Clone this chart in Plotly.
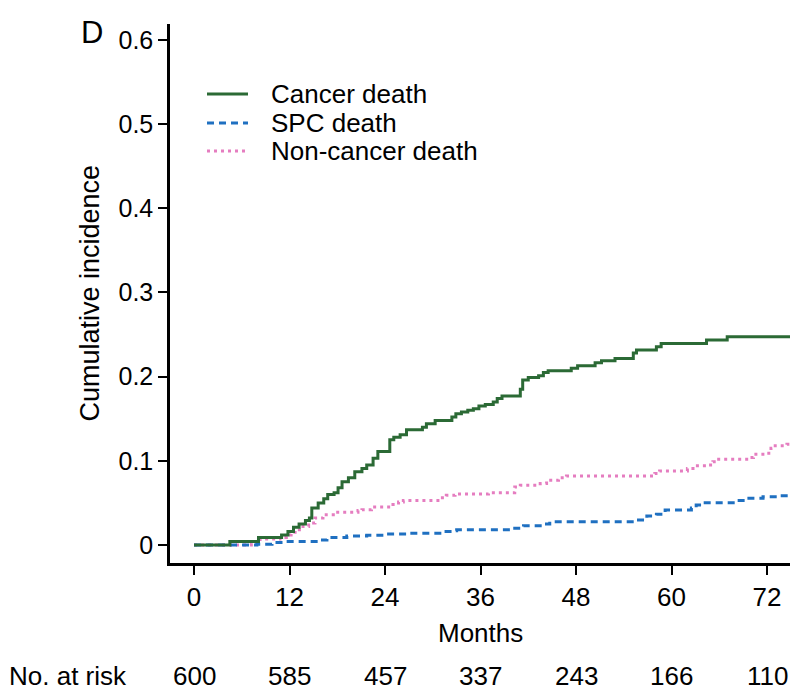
import plotly.graph_objects as go

# ---- data ----
series_names = ["Cancer death", "SPC death", "Non-cancer death"]

cancer_t = [0, 4.5, 8.1, 11.0, 11.8, 12.5, 13.2, 14.0, 14.5, 14.8, 15.6, 16.3, 16.8, 17.6, 18.1,
            18.6, 19.4, 20.2, 21.1, 21.7, 22.5, 23.1, 24.6, 25.1, 25.9, 26.7, 28.7, 29.2, 30.3,
            32.4, 32.9, 33.6, 34.4, 35.1, 35.8, 36.6, 37.6, 38.1, 38.7, 41.0, 41.3, 42.0, 43.3,
            43.9, 44.5, 47.4, 48.2, 50.4, 51.2, 52.9, 55.2, 55.6, 58.1, 58.7, 64.4, 67.0, 76.0]
cancer_v = [0, 0.004, 0.009, 0.012, 0.016, 0.021, 0.025, 0.029, 0.032, 0.044, 0.050, 0.055, 0.060,
            0.062, 0.068, 0.075, 0.080, 0.087, 0.091, 0.095, 0.103, 0.111, 0.125, 0.128, 0.131,
            0.137, 0.140, 0.144, 0.148, 0.152, 0.156, 0.158, 0.160, 0.162, 0.165, 0.167, 0.170,
            0.174, 0.177, 0.185, 0.196, 0.199, 0.201, 0.205, 0.207, 0.210, 0.213, 0.2166, 0.219,
            0.2215, 0.228, 0.2316, 0.2355, 0.2395, 0.2435, 0.2474, 0.2474]

spc_t = [0, 7.9, 9.8, 11.2, 15.8, 16.7, 19.2, 21.7, 24.2, 26.7, 31.3, 32.5, 33.0, 40.3, 41.4,
         43.5, 44.7, 55.6, 56.9, 58.1, 59.2, 62.5, 63.1, 64.0, 68.5, 69.0, 71.5, 73.5, 76.0]
spc_v = [0, 0.001, 0.003, 0.004, 0.006, 0.009, 0.0107, 0.0115, 0.013, 0.0139, 0.016, 0.017, 0.018,
         0.020, 0.023, 0.025, 0.0277, 0.0297, 0.0344, 0.0364, 0.0416, 0.044, 0.0475, 0.0503,
         0.053, 0.0554, 0.0574, 0.0586, 0.0586]

noncancer_t = [0, 7.2, 8.3, 10.8, 11.6, 12.2, 12.7, 13.5, 14.4, 15.2, 16.2, 17.5, 20.6, 21.1, 22.3,
               25.0, 25.7, 26.3, 30.9, 31.7, 32.8, 37.0, 40.3, 41.0, 43.5, 44.3, 45.8, 46.8, 57.9,
               58.5, 62.0, 62.7, 64.4, 65.2, 65.7, 69.8, 70.3, 71.9, 72.5, 72.8, 74.5, 76.0]
noncancer_v = [0, 0.002, 0.007, 0.009, 0.012, 0.015, 0.018, 0.022, 0.026, 0.032, 0.036, 0.039,
               0.041, 0.042, 0.045, 0.048, 0.051, 0.053, 0.056, 0.059, 0.0606, 0.062, 0.069, 0.071,
               0.073, 0.077, 0.080, 0.082, 0.085, 0.088, 0.091, 0.094, 0.095, 0.099, 0.102, 0.104,
               0.1077, 0.109, 0.115, 0.118, 0.1196, 0.1196]

x_ticks = [0, 12, 24, 36, 48, 60, 72]
y_ticks = [0, 0.1, 0.2, 0.3, 0.4, 0.5, 0.6]
at_risk = [600, 585, 457, 337, 243, 166, 110]

# ---- styles ----
FONT = "Liberation Sans, Arial, Helvetica, sans-serif"
FS = 26
GREEN = "#2B6A35"
BLUE = "#1F70C1"
PINK = "#E57DC0"
styles = {
    "Cancer death": dict(color=GREEN, dash="solid"),
    "SPC death": dict(color=BLUE, dash="7px,5px"),
    "Non-cancer death": dict(color=PINK, dash="3px,4px"),
}

fig = go.Figure()
data = {
    "Non-cancer death": (noncancer_t, noncancer_v),
    "SPC death": (spc_t, spc_v),
    "Cancer death": (cancer_t, cancer_v),
}
for name, (t, v) in data.items():
    st = styles[name]
    fig.add_trace(go.Scatter(x=t, y=v, mode="lines", name=name, line_shape="hv",
                             line=dict(color=st["color"], width=3, dash=st["dash"]),
                             showlegend=False, hoverinfo="skip"))

W, H = 790, 692
ml, mr, mt, mb = 170, 0, 24, 129
pw = W - ml - mr
ph = H - mt - mb

fig.update_layout(
    width=W, height=H,
    margin=dict(l=ml, r=mr, t=mt, b=mb),
    plot_bgcolor="white", paper_bgcolor="white",
    font=dict(family=FONT, size=FS, color="black"),
    showlegend=False,
)
fig.update_xaxes(range=[-3.02, 74.89], tickvals=x_ticks, ticktext=[str(v) for v in x_ticks],
                 showline=True, linecolor="black", linewidth=2.5, ticks="outside",
                 ticklen=9, tickwidth=2, tickcolor="black", showgrid=False, zeroline=False,
                 tickfont=dict(size=FS), title=None)
fig.update_yaxes(range=[-0.0214, 0.619], tickvals=y_ticks,
                 ticktext=["0" if v == 0 else f"{v:.1f}" for v in y_ticks],
                 showline=True, linecolor="black", linewidth=2.5, ticks="outside",
                 ticklen=9, tickwidth=2, tickcolor="black", showgrid=False, zeroline=False,
                 tickfont=dict(size=FS - 1), title=None)

ann = []
# axis titles
ann.append(dict(text="Months", xref="paper", yref="paper", x=0.5, y=-(633 - (mt + ph)) / ph,
                showarrow=False, font=dict(size=FS), xanchor="center", yanchor="middle"))
ann.append(dict(text="Cumulative incidence", xref="paper", yref="paper", x=-(ml - 89) / pw, y=0.5,
                textangle=-90, showarrow=False, font=dict(size=FS + 1), xanchor="center",
                yanchor="middle"))
# panel label
ann.append(dict(text="D", xref="paper", yref="paper", x=-(ml - 92) / pw, y=1 + (mt - 32) / ph,
                showarrow=False, font=dict(size=31), xanchor="center", yanchor="middle"))
# at-risk row (box bottom sits at the page bottom)
risk_y = -(H - (mt + ph)) / ph
ann.append(dict(text="No. at risk", xref="paper", yref="paper", x=-(ml - 8) / pw, y=risk_y,
                showarrow=False, font=dict(size=FS), xanchor="left", yanchor="bottom", borderpad=0))
for xv, n in zip(x_ticks, at_risk):
    ann.append(dict(text=str(n), xref="x", yref="paper", x=xv, y=risk_y, showarrow=False,
                    font=dict(size=FS), xanchor="center", yanchor="bottom", borderpad=0))

# manual legend
shapes = []
leg_y = [94, 123, 151]
for name, py in zip(series_names, leg_y):
    st = styles[name]
    yp = 1 - (py - mt) / ph
    shapes.append(dict(type="line", xref="paper", yref="paper",
                       x0=(207 - ml) / pw, x1=(248 - ml) / pw, y0=yp, y1=yp,
                       line=dict(color=st["color"], width=3, dash=st["dash"])))
    ann.append(dict(text=name, xref="paper", yref="paper", x=(269 - ml) / pw, y=yp,
                    showarrow=False, font=dict(size=FS), xanchor="left", yanchor="middle"))

fig.update_layout(annotations=ann, shapes=shapes)
fig.write_html("out.html")
